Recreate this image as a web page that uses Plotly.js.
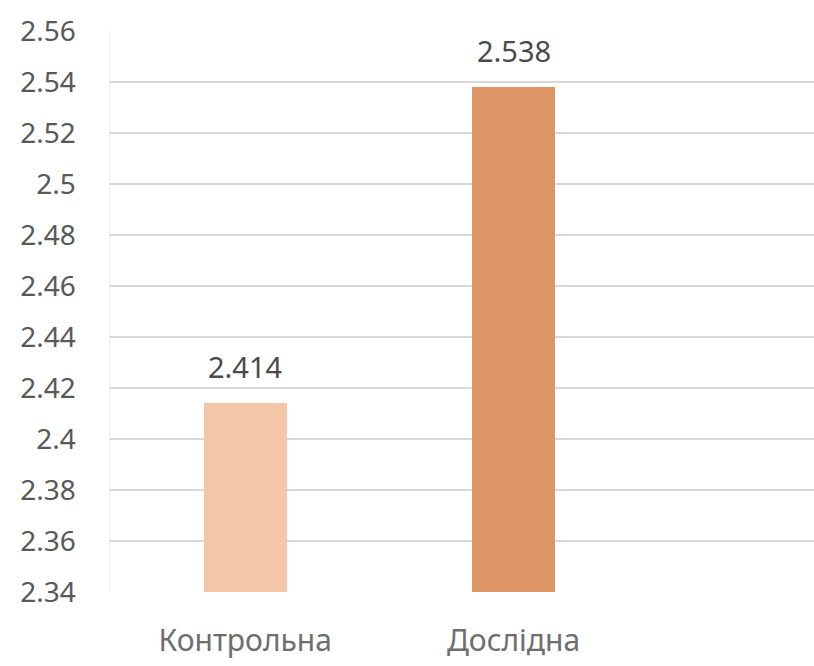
<!DOCTYPE html>
<html>
<head>
<meta charset="utf-8">
<script src="https://cdn.plot.ly/plotly-3.0.1.min.js"></script>
<style>
  html, body { margin: 0; padding: 0; background: #ffffff; }
  #chart { width: 814px; height: 666px; }
</style>
</head>
<body>
<div id="chart"></div>
<script>
// Group names and their mean values
const groups = ['Контрольна', 'Дослідна'];
const values = [2.414, 2.538];
const barColors = ['#F2C6A6', '#DF9667'];

// Value axis ticks
const yMin = 2.34;
const yMax = 2.56;
const yStep = 0.02;

const fontFamily = '"Noto Sans", "Open Sans", sans-serif';

const trace = {
  type: 'bar',
  x: groups,
  y: values,
  marker: { color: barColors, line: { width: 0 } },
  width: 0.31,
  hoverinfo: 'x+y'
};

// Value labels above each bar
const labels = groups.map((g, i) => ({
  x: g,
  y: values[i],
  text: String(values[i]),
  showarrow: false,
  yanchor: 'middle',
  yshift: 37,
  font: { family: fontFamily, size: 29, color: '#4a4a4a' }
}));

const layout = {
  width: 814,
  height: 666,
  margin: { l: 110, r: 0, t: 31, b: 74 },
  paper_bgcolor: '#ffffff',
  plot_bgcolor: '#ffffff',
  showlegend: false,
  font: { family: fontFamily, color: '#595959' },
  xaxis: {
    type: 'category',
    range: [-0.504, 2.12],
    showgrid: false,
    zeroline: false,
    showline: false,
    ticks: '',
    tickfont: { family: fontFamily, size: 30, color: '#6e6e6e' },
    ticklabelstandoff: 28
  },
  yaxis: {
    range: [yMin, yMax],
    dtick: yStep,
    tick0: yMin,
    showgrid: true,
    gridcolor: '#D9D9D9',
    gridwidth: 2.5,
    zeroline: false,
    showline: true,
    linecolor: '#EDEDED',
    linewidth: 1.5,
    ticks: '',
    tickfont: { family: fontFamily, size: 28, color: '#595959' },
    ticklabelstandoff: 27
  },
  annotations: labels,
  bargap: 0
};

Plotly.newPlot('chart', [trace], layout, { displayModeBar: false, staticPlot: true });
</script>
</body>
</html>
